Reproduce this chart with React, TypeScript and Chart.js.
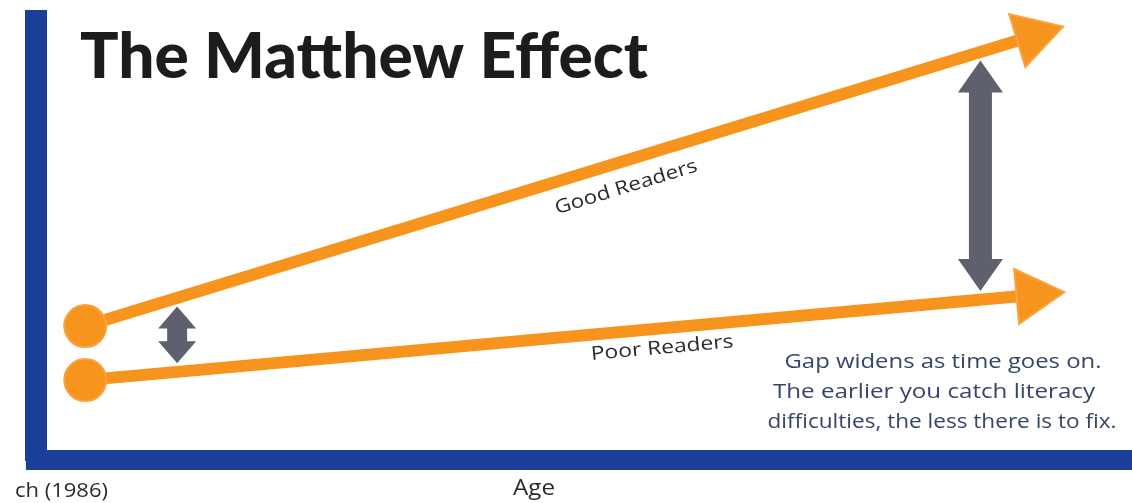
import React, { useEffect, useRef } from "react";
import { Chart, registerables } from "chart.js";

Chart.register(...registerables);

// ---------- data ----------
const ages = [0, 10];
const goodReaders = [30.5, 96.6];
const poorReaders = [18.2, 37.6];
const gapAges = [0.97, 9.45];
const seriesLabels = ["Good Readers", "Poor Readers"];
const labelAges = [5.71, 6.09];
const titleText = "The Matthew Effect";
const xAxisTitle = "Age";
const sourceText = "ch (1986)";
const noteLines = [
  "Gap widens as time goes on.",
  "The earlier you catch literacy",
  "difficulties, the less there is to fix.",
];

// ---------- styles ----------
const ORANGE = "#f7941d";
const ORANGE_EDGE = "#f9a443";
const BLUE = "#1b3f98";
const GRAY = "#5e606d";
const TEXT = "#2b2b2b";
const NOTE = "#34466a";
const BODY_FONT = "'Open Sans', 'Noto Sans', sans-serif";
const TITLE_FONT = "Lato, 'DejaVu Sans', sans-serif";

const gapArrowSizes = [
  { shaft: 20, head: 38, headH: 22 },
  { shaft: 23, head: 45, headH: 32 },
];

function lineValueAt(values: number[], a: number) {
  const t = (a - ages[0]) / (ages[1] - ages[0]);
  return values[0] + (values[1] - values[0]) * t;
}

function fitText(
  ctx: CanvasRenderingContext2D,
  text: string,
  x: number,
  y: number,
  width: number,
  font: string,
  color: string,
  align: CanvasTextAlign,
  baseline: CanvasTextBaseline = "alphabetic",
  angle = 0
) {
  ctx.save();
  ctx.font = font;
  ctx.fillStyle = color;
  ctx.textAlign = align;
  ctx.textBaseline = baseline;
  const w = ctx.measureText(text).width || 1;
  ctx.translate(x, y);
  ctx.rotate(angle);
  ctx.scale(width / w, 1);
  ctx.fillText(text, 0, 0);
  ctx.restore();
}

function drawDoubleArrow(
  ctx: CanvasRenderingContext2D,
  x: number,
  yTop: number,
  yBot: number,
  s: { shaft: number; head: number; headH: number }
) {
  const hs = s.shaft / 2;
  const hh = s.head / 2;
  ctx.beginPath();
  ctx.moveTo(x, yTop);
  ctx.lineTo(x + hh, yTop + s.headH);
  ctx.lineTo(x + hs, yTop + s.headH);
  ctx.lineTo(x + hs, yBot - s.headH);
  ctx.lineTo(x + hh, yBot - s.headH);
  ctx.lineTo(x, yBot);
  ctx.lineTo(x - hh, yBot - s.headH);
  ctx.lineTo(x - hs, yBot - s.headH);
  ctx.lineTo(x - hs, yTop + s.headH);
  ctx.lineTo(x - hh, yTop + s.headH);
  ctx.closePath();
  ctx.fillStyle = GRAY;
  ctx.fill();
}

const arrowRotation = (c: any) => {
  const chart = c.chart;
  const data = c.dataset.data;
  const xs = chart.scales.x;
  const ys = chart.scales.y;
  if (!xs || !ys || !data || data.length < 2) return 0;
  const x0 = xs.getPixelForValue(data[0].x);
  const y0 = ys.getPixelForValue(data[0].y);
  const x1 = xs.getPixelForValue(data[1].x);
  const y1 = ys.getPixelForValue(data[1].y);
  return (Math.atan2(y1 - y0, x1 - x0) * 180) / Math.PI + 90;
};

const annotationPlugin = {
  id: "matthewAnnotations",
  afterDatasetsDraw(chart: any) {
    const ctx: CanvasRenderingContext2D = chart.ctx;
    const xs = chart.scales.x;
    const ys = chart.scales.y;

    // gap arrows between the two lines
    gapAges.forEach((a, i) => {
      const px = xs.getPixelForValue(a);
      const yTop = ys.getPixelForValue(lineValueAt(goodReaders, a)) + 8.5;
      const yBot = ys.getPixelForValue(lineValueAt(poorReaders, a)) - 8.5;
      drawDoubleArrow(ctx, px, yTop, yBot, gapArrowSizes[i]);
    });

    // series labels along the lines
    const series = [goodReaders, poorReaders];
    const offsets = [27, 20];
    const widths = [148, 143];
    series.forEach((vals, i) => {
      const x0 = xs.getPixelForValue(ages[0]);
      const y0 = ys.getPixelForValue(vals[0]);
      const x1 = xs.getPixelForValue(ages[1]);
      const y1 = ys.getPixelForValue(vals[1]);
      const ang = Math.atan2(y1 - y0, x1 - x0);
      const a = labelAges[i];
      const px = xs.getPixelForValue(a);
      const py = ys.getPixelForValue(lineValueAt(vals, a)) + offsets[i];
      fitText(ctx, seriesLabels[i], px, py, widths[i], `19px ${BODY_FONT}`, TEXT, "center", "middle", ang);
    });

    // title
    fitText(ctx, titleText, 80, 78, 568, `900 62px ${TITLE_FONT}`, "#1c1c1c", "left");

    // note
    const noteX = [943, 934, 942];
    const noteY = [368, 398, 428];
    const noteW = [317, 322, 349];
    noteLines.forEach((t, i) => {
      fitText(ctx, t, noteX[i], noteY[i], noteW[i], `20px ${BODY_FONT}`, NOTE, "center");
    });

    // axis title and source
    fitText(ctx, xAxisTitle, 534, 495, 42, `21px ${BODY_FONT}`, TEXT, "center");
    fitText(ctx, sourceText, 15, 497, 93, `20px ${BODY_FONT}`, TEXT, "left");
  },
};

export default function App() {
  const canvasRef = useRef<HTMLCanvasElement | null>(null);

  useEffect(() => {
    if (!canvasRef.current) return;
    const makeData = (vals: number[]) => ages.map((a, i) => ({ x: a, y: vals[i] }));
    const common = {
      borderColor: ORANGE,
      backgroundColor: ORANGE,
      borderWidth: 12,
      borderCapStyle: "butt" as const,
      pointStyle: ["circle", "triangle"],
      pointRadius: [21, 32],
      pointHoverRadius: [21, 32],
      pointBackgroundColor: ORANGE,
      pointBorderColor: ORANGE_EDGE,
      pointBorderWidth: 2,
      pointRotation: arrowRotation,
      clip: false as const,
      tension: 0,
    };
    const chart = new Chart(canvasRef.current, {
      type: "line",
      data: {
        datasets: [
          { label: seriesLabels[0], data: makeData(goodReaders), ...common },
          { label: seriesLabels[1], data: makeData(poorReaders), ...common },
        ],
      },
      options: {
        animation: false,
        responsive: true,
        maintainAspectRatio: false,
        events: [],
        layout: { autoPadding: false, padding: { left: 36, top: 21, right: 0, bottom: 43 } },
        plugins: {
          legend: { display: false },
          tooltip: { enabled: false },
          title: { display: false },
        },
        scales: {
          x: {
            type: "linear",
            min: -0.52,
            max: 11.05,
            grid: { display: false, drawTicks: false, tickLength: 0 },
            ticks: { display: false },
            border: { display: true, color: BLUE, width: 20 },
          },
          y: {
            type: "linear",
            min: 0,
            max: 100,
            grid: { display: false, drawTicks: false, tickLength: 0 },
            ticks: { display: false },
            border: { display: true, color: BLUE, width: 22 },
          },
        },
      },
      plugins: [annotationPlugin],
    });
    return () => chart.destroy();
  }, []);

  return (
    <div
      style={{
        position: "absolute",
        left: 0,
        top: 0,
        width: 1132,
        height: 503,
        background: "#ffffff",
      }}
    >
      <canvas ref={canvasRef} />
    </div>
  );
}
